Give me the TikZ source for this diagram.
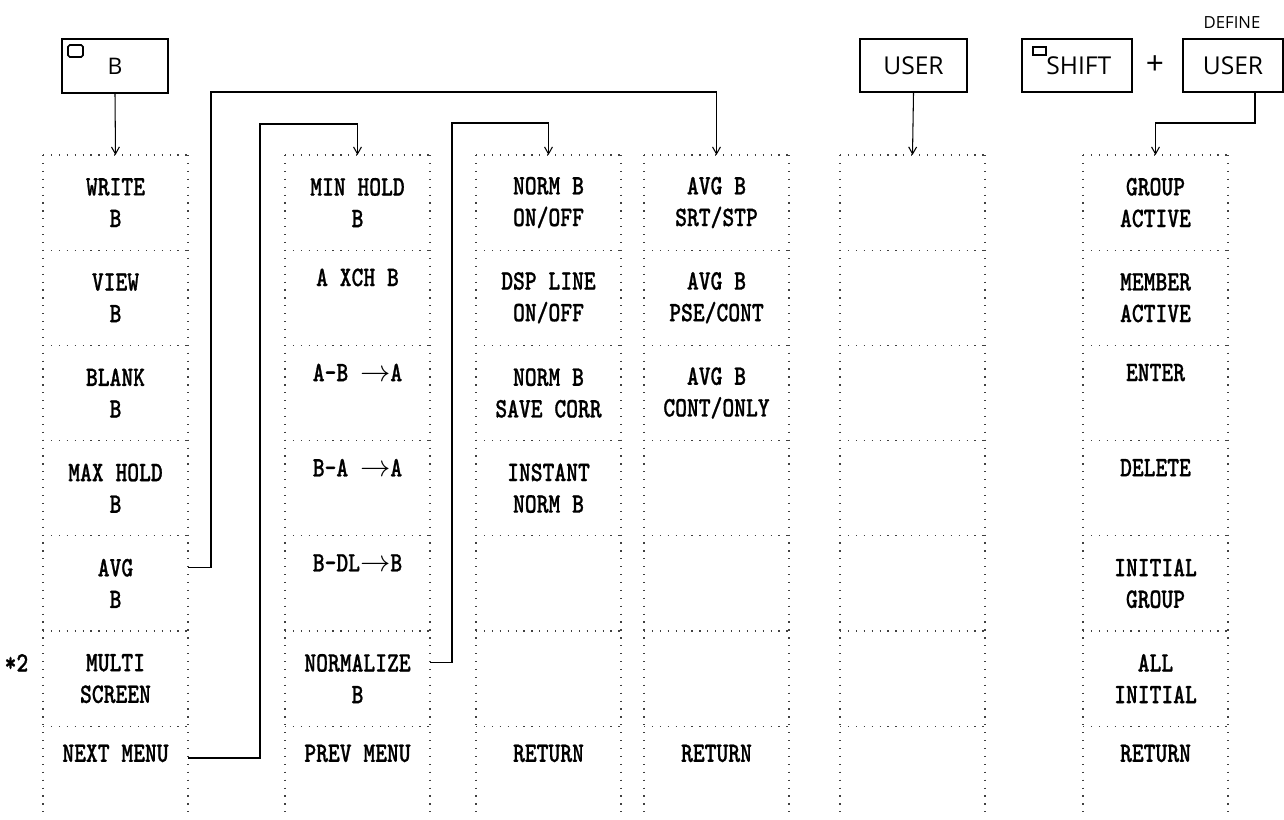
\documentclass[tikz,border=0pt]{standalone}
\usepackage{fontspec}
\newfontfamily\menufont{lmmonolt10-bold.otf}[FakeStretch=0.8,FakeBold=0.8]
\newfontfamily\keyfont{Open Sans}
\usetikzlibrary{arrows.meta}

\tikzset{
    cell/.style={minimum width=2.9cm, minimum height=1.9cm, inner sep=0pt, align=center,
        font=\menufont\fontsize{16pt}{18pt}\selectfont},
    sepline/.style={black!75, line width=0.7pt, dash pattern=on 0.7pt off 3.8pt},
    keybox/.style={draw, line width=1.1pt, minimum height=1.07cm, inner sep=0pt,
        font=\keyfont\fontsize{14pt}{16pt}\selectfont},
    conn/.style={line width=0.6pt, -{Straight Barb[length=4pt,width=4.5pt]}},
    link/.style={line width=0.6pt}
}

\begin{document}
\begin{tikzpicture}[x=0.02cm, y=-0.02cm]
    \useasboundingbox (0,0) rectangle (1284,819);
    % soft key columns
    \foreach \xl in {43,285,476,644,840,1083} {
        \foreach \yr in {155,250.2,345.4,440.6,535.8,631,726.2}
            \draw[sepline] (\xl,\yr) -- ++(145,0);
        \draw[sepline] (\xl,155) -- (\xl,819);
        \draw[sepline] (\xl+145,155) -- (\xl+145,819);
    }
    \foreach \n/\xc in {1/115.5,2/357.5,3/548.5,4/716.5,5/912.5,6/1155.5}
        \coordinate (top\n) at (\xc,155);

    % keys
    \node[keybox, minimum width=2.12cm] (bkey) at (115,66) {\fontsize{13pt}{14pt}\selectfont B};
    \draw[line width=0.9pt, rounded corners=1pt] (68,45) rectangle (83,57);
    \node[keybox, minimum width=2.14cm] (userkey) at (913.5,65.5) {USER};
    \node[keybox, minimum width=2.2cm] (shiftkey) at (1077,65.5) {\hspace*{2pt}SHIFT};
    \draw[line width=0.9pt] (1033,47) rectangle (1046,55);
    \node[font=\keyfont\fontsize{18pt}{18pt}\selectfont, inner sep=0pt] (plus) at (1155,65) {+};
    \node[keybox, minimum width=2.0cm] (defkey) at (1233,65.5) {USER};
    \node[font=\keyfont\fontsize{9.5pt}{10pt}\selectfont, inner sep=0pt] (deflabel) at (1232,23) {DEFINE};

    % menu B
    \node[cell] (c1r1) at (115.5,202.6) {WRITE\\B};
    \node[cell] (c1r2) at (115.5,297.8) {VIEW\\B};
    \node[cell] (c1r3) at (115.5,393) {BLANK\\B};
    \node[cell] (c1r4) at (115.5,488.2) {MAX HOLD\\B};
    \node[cell] (c1r5) at (115.5,583.4) {AVG\\B};
    \node[cell] (c1r6) at (115.5,678.6) {MULTI\\SCREEN};
    \node[cell] (c1r7) at (115.5,773.8) {NEXT MENU\\\strut};
    \node[cell, minimum width=0pt, minimum height=0pt, anchor=east] (note2) at ([xshift=-8pt, yshift=9pt]c1r6.west) {*2};

    % second page
    \node[cell] (c2r1) at (357.5,202.6) {MIN HOLD\\B};
    \node[cell] (c2r2) at (357.5,297.8) {A XCH B\\\strut};
    \node[cell] (c2r3) at (357.5,393) {A-B $\rightarrow$A\\\strut};
    \node[cell] (c2r4) at (357.5,488.2) {B-A $\rightarrow$A\\\strut};
    \node[cell] (c2r5) at (357.5,583.4) {B-DL$\rightarrow$B\\\strut};
    \node[cell] (c2r6) at (357.5,678.6) {NORMALIZE\\B};
    \node[cell] (c2r7) at (357.5,773.8) {PREV MENU\\\strut};

    % normalize
    \node[cell] (c3r1) at (548.5,202.6) {NORM B\\ON/OFF};
    \node[cell] (c3r2) at (548.5,297.8) {DSP LINE\\ON/OFF};
    \node[cell] (c3r3) at (548.5,393) {NORM B\\SAVE CORR};
    \node[cell] (c3r4) at (548.5,488.2) {INSTANT\\NORM B};
    \node[cell] (c3r7) at (548.5,773.8) {RETURN\\\strut};

    % average
    \node[cell] (c4r1) at (716.5,202.6) {AVG B\\SRT/STP};
    \node[cell] (c4r2) at (716.5,297.8) {AVG B\\PSE/CONT};
    \node[cell] (c4r3) at (716.5,393) {AVG B\\CONT/ONLY};
    \node[cell] (c4r7) at (716.5,773.8) {RETURN\\\strut};

    % define user
    \node[cell] (c6r1) at (1155.5,202.6) {GROUP\\ACTIVE};
    \node[cell] (c6r2) at (1155.5,297.8) {MEMBER\\ACTIVE};
    \node[cell] (c6r3) at (1155.5,393) {ENTER\\\strut};
    \node[cell] (c6r4) at (1155.5,488.2) {DELETE\\\strut};
    \node[cell] (c6r5) at (1155.5,583.4) {INITIAL\\GROUP};
    \node[cell] (c6r6) at (1155.5,678.6) {ALL\\INITIAL};
    \node[cell] (c6r7) at (1155.5,773.8) {RETURN\\\strut};

    % connectors
    \coordinate (bendA) at (211,92);
    \coordinate (bendN) at (260,124);
    \coordinate (bendZ) at (452,123);
    \coordinate (bendD) at (1255,123);
    \draw[conn] (bkey.south) -- (top1);
    \draw[conn] ([yshift=9pt]c1r5.east) -| (bendA) -| (top4);
    \draw[conn] ([yshift=9pt]c1r7.east) -| (bendN) -| (top2);
    \draw[conn] ([yshift=9pt]c2r6.east) -| (bendZ) -| (top3);
    \draw[conn] (userkey.south) -- (top5);
    \draw[conn] (bendD |- defkey.south) -- (bendD) -| (top6);
\end{tikzpicture}
\end{document}
